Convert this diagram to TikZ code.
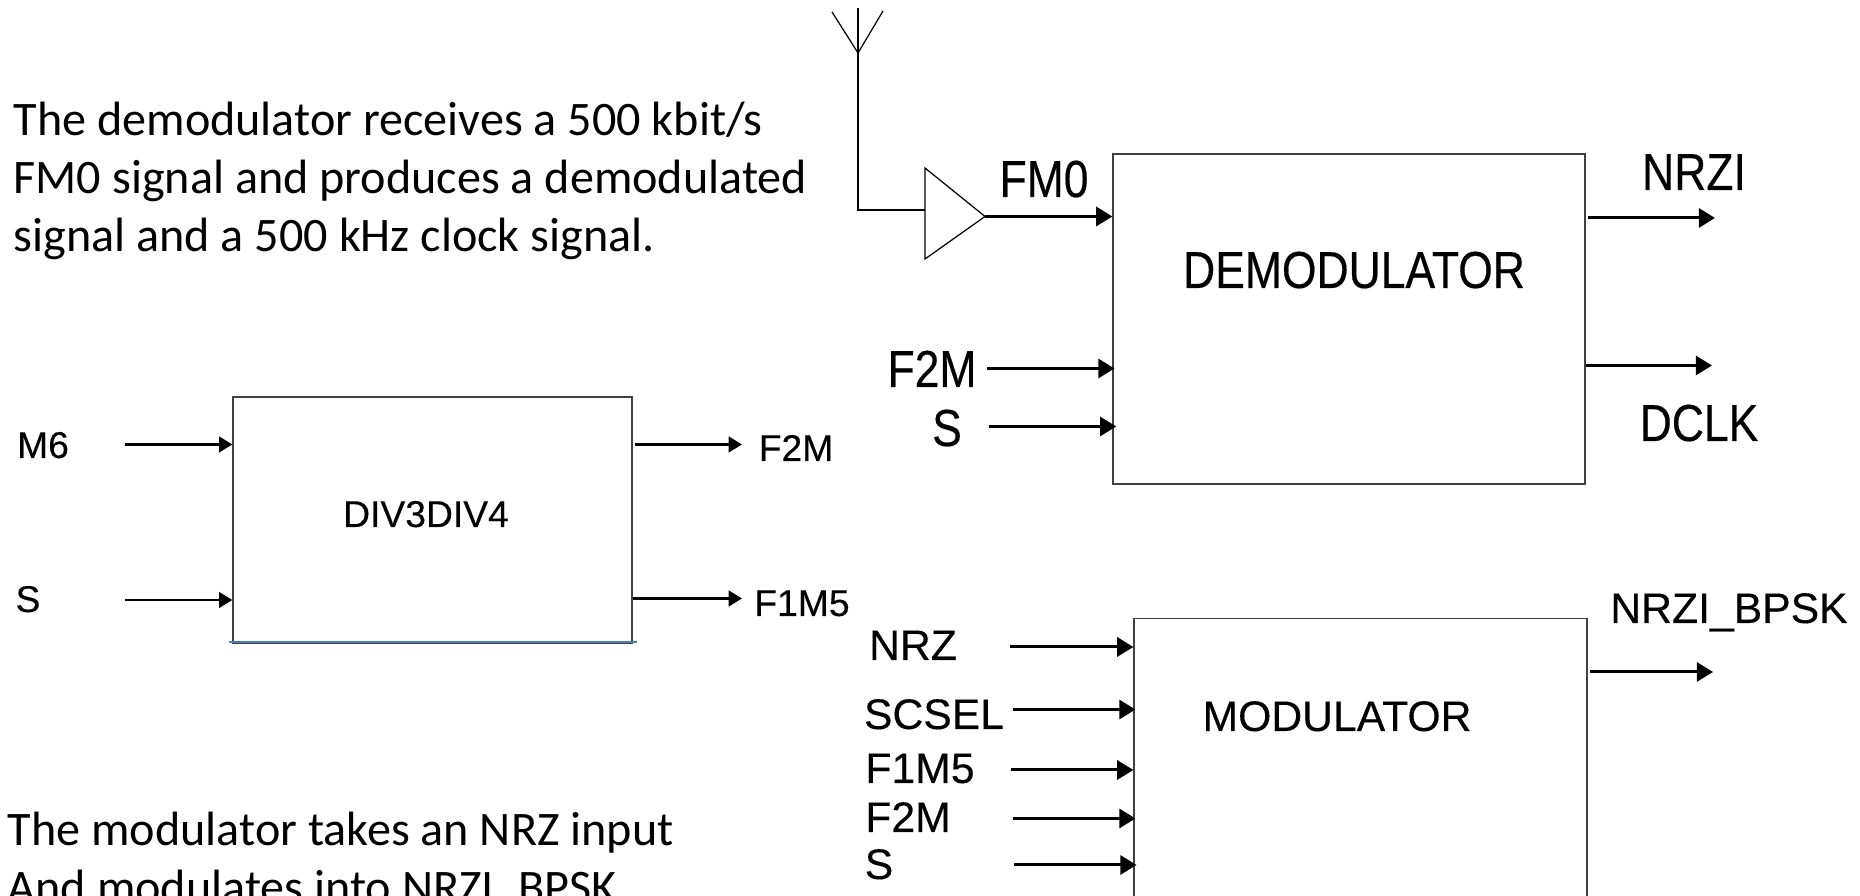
\documentclass[tikz,border=0pt]{standalone}
\usepackage{fontspec}
\setmainfont[FakeBold=0.25]{Liberation Sans}
\newfontfamily\bodyfont{Carlito}
\newfontfamily\squeezedfont[FakeStretch=0.855,FakeBold=0.35]{Liberation Sans}
\usetikzlibrary{arrows.meta}
\definecolor{edgeblue}{RGB}{74,126,187}
\tikzset{
  blockbox/.style={draw=black!75,line width=0.35pt,inner sep=0pt},
  sigline/.style={-{Triangle[length=4.6pt,width=5.4pt]},line width=0.85pt},
  smallsig/.style={-{Triangle[length=3.8pt,width=4.4pt]},line width=0.8pt},
  thinline/.style={line width=0.35pt},
  biglabel/.style={anchor=base,inner sep=0pt,font=\squeezedfont\fontsize{14.8pt}{16pt}\selectfont},
  midlabel/.style={anchor=base,inner sep=0pt,font=\fontsize{12.15pt}{14pt}\selectfont},
  smalllabel/.style={anchor=base,inner sep=0pt,font=\fontsize{10.6pt}{12pt}\selectfont},
  bodytext/.style={anchor=north west,align=left,inner sep=0pt,font=\bodyfont\fontsize{13.7pt}{16.5pt}\selectfont}
}
\begin{document}
\begin{tikzpicture}[scale=1]
\useasboundingbox (0,0) rectangle (18.6,8.96);
\clip (0,0) rectangle (18.6,8.96);
% text
\node[bodytext] (demodtext) at (0.13,7.95) {The demodulator receives a 500 kbit/s\\FM0 signal and produces a demodulated\\signal and a 500 kHz clock signal.};
\node[bodytext] (modtext) at (0.07,0.85) {The modulator takes an NRZ input\\And modulates into NRZI\_BPSK};
% divider
\node[blockbox,minimum width=3.99cm,minimum height=2.46cm] (divbox) at (4.325,3.76) {};
\node[smalllabel] (divname) at (4.26,3.69) {DIV3DIV4};
\node[smalllabel] (divm6) at (0.43,4.38) {M6};
\node[smalllabel] (divs) at (0.28,2.84) {S};
\node[smalllabel] (divf2m) at (7.96,4.35) {F2M};
\node[smalllabel] (divf1m5) at (8.02,2.80) {F1M5};
\coordinate (m6in) at (1.25,4.515);
\coordinate (divsin) at (1.25,2.96);
\coordinate (f2mout) at (7.42,4.515);
\coordinate (f1m5out) at (7.42,2.975);
\draw[smallsig] (m6in) -- (divbox.west |- m6in);
\draw[smallsig] (divsin) -- (divbox.west |- divsin);
\draw[smallsig,shorten <=0.6pt] (divbox.east |- f2mout) -- (f2mout);
\draw[smallsig] (divbox.east |- f1m5out) -- (f1m5out);
\draw[edgeblue,line width=0.4pt] (2.29,2.54) -- (6.37,2.54);
% demodulator
\node[blockbox,minimum width=4.72cm,minimum height=3.30cm] (demod) at (13.49,5.77) {};
\node[biglabel] (demodname) at (13.54,6.08) {DEMODULATOR};
\node[biglabel] (fmlabel) at (10.44,6.99) {FM0};
\node[biglabel] (demodf2m) at (9.32,5.09) {F2M};
\node[biglabel] (demods) at (9.47,4.50) {S};
\node[biglabel] (nrzilabel) at (16.94,7.06) {NRZI};
\node[biglabel] (dclklabel) at (16.99,4.55) {DCLK};
\coordinate (anttip) at (8.58,8.43);
\coordinate (anttop) at (8.58,8.88);
\coordinate (antleft) at (8.32,8.84);
\coordinate (antright) at (8.83,8.85);
\coordinate (antbend) at (8.58,6.86);
\coordinate (ampin) at (9.25,6.86);
\coordinate (ampup) at (9.25,7.28);
\coordinate (ampdown) at (9.25,6.37);
\coordinate (ampout) at (9.85,6.795);
\draw[thinline] (antleft) -- (anttip) -- (antright);
\draw[thinline] (anttop) -- (antbend) -- (ampin);
\draw[thinline] (ampup) -- (ampout) -- (ampdown) -- cycle;
\coordinate (demodf2min) at (9.87,5.275);
\coordinate (demodsin) at (9.89,4.695);
\coordinate (nrziout) at (17.15,6.78);
\coordinate (dclkout) at (17.12,5.305);
\draw[sigline] (ampout) -- (demod.west |- ampout);
\draw[sigline,shorten >=-0.6pt] (demodf2min) -- (demod.west |- demodf2min);
\draw[sigline,shorten >=-1.1pt] (demodsin) -- (demod.west |- demodsin);
\draw[sigline,shorten <=0.6pt] (demod.east |- nrziout) -- (nrziout);
\draw[sigline] (demod.east |- dclkout) -- (dclkout);
% modulator
\node[blockbox,minimum width=4.53cm,minimum height=4.81cm] (mod) at (13.605,0.37) {};
\node[midlabel] (modname) at (13.37,1.65) {MODULATOR};
\node[midlabel] (modnrz) at (9.13,2.36) {NRZ};
\node[midlabel] (modscsel) at (9.34,1.67) {SCSEL};
\node[midlabel] (modf1m5) at (9.20,1.13) {F1M5};
\node[midlabel] (modf2m) at (9.08,0.64) {F2M};
\node[midlabel] (mods) at (8.79,0.17) {S};
\node[midlabel] (bpsklabel) at (17.29,2.73) {NRZI\_BPSK};
\coordinate (nrzin) at (10.10,2.49);
\coordinate (scselin) at (10.13,1.865);
\coordinate (modf1m5in) at (10.11,1.26);
\coordinate (modf2min) at (10.13,0.775);
\coordinate (modsin) at (10.14,0.31);
\coordinate (bpskout) at (17.13,2.24);
\draw[sigline] (nrzin) -- (mod.west |- nrzin);
\draw[sigline,shorten >=-0.6pt] (scselin) -- (mod.west |- scselin);
\draw[sigline] (modf1m5in) -- (mod.west |- modf1m5in);
\draw[sigline,shorten >=-0.6pt] (modf2min) -- (mod.west |- modf2min);
\draw[sigline,shorten >=-0.9pt] (modsin) -- (mod.west |- modsin);
\draw[sigline,shorten <=0.8pt] (mod.east |- bpskout) -- (bpskout);
\end{tikzpicture}
\end{document}
